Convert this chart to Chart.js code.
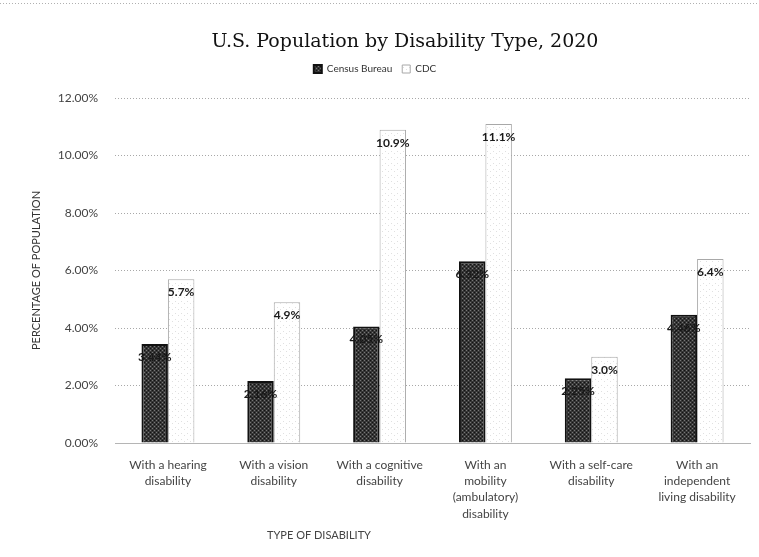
<!DOCTYPE html>
<html>
<head>
<meta charset="utf-8">
<script src="https://cdn.jsdelivr.net/npm/chart.js@4.4.1/dist/chart.umd.min.js"></script>
<style>
  html, body { margin: 0; padding: 0; background: #ffffff; }
  #wrap { width: 759px; height: 557px; position: relative; }
</style>
</head>
<body>
<div id="wrap"><canvas id="chart" width="759" height="557"></canvas></div>
<script>
// Disability types (x-axis categories, multi-line)
const categories = [
  ["With a hearing", "disability"],
  ["With a vision", "disability"],
  ["With a cognitive", "disability"],
  ["With an", "mobility", "(ambulatory)", "disability"],
  ["With a self-care", "disability"],
  ["With an", "independent", "living disability"]
];

// Percent of population, 2020
const censusBureau = [3.44, 2.16, 4.05, 6.32, 2.25, 4.46];
const cdc = [5.7, 4.9, 10.9, 11.1, 3.0, 6.4];

const yTicks = [0, 2, 4, 6, 8, 10, 12];

const chartTitle = "U.S. Population by Disability Type, 2020";
const xAxisTitle = "TYPE OF DISABILITY";
const yAxisTitle = "PERCENTAGE OF POPULATION";

const uiFont = "Lato, 'Open Sans', sans-serif";

// Textured fills for the two series
function makePattern(draw, size) {
  const c = document.createElement("canvas");
  c.width = size; c.height = size;
  const g = c.getContext("2d");
  draw(g);
  return g.createPattern(c, "repeat");
}
const darkFill = makePattern(g => {
  g.fillStyle = "#363636"; g.fillRect(0, 0, 4, 4);
  g.fillStyle = "#777777";
  g.fillRect(0, 0, 1, 1); g.fillRect(2, 2, 1, 1);
  g.fillStyle = "#121212";
  g.fillRect(2, 0, 1, 1); g.fillRect(0, 2, 1, 1);
}, 4);
const lightFill = makePattern(g => {
  g.fillStyle = "#ffffff"; g.fillRect(0, 0, 6, 6);
  g.fillStyle = "#e0e0e0";
  g.fillRect(1, 1, 1, 1); g.fillRect(4, 3, 1, 1);
}, 6);

// Extra space below the legend row
const legendGap = {
  id: "legendGap",
  beforeUpdate(chart) {
    const lg = chart.legend;
    if (lg && !lg._gapPatched) {
      const fit = lg.fit;
      lg.fit = function () {
        fit.call(this);
        this.height += 14;
      };
      lg._gapPatched = true;
    }
  }
};

// Title, x-axis title and value labels drawn on the canvas
const annotations = {
  id: "annotations",
  beforeDraw(chart) {
    const ctx = chart.ctx;
    ctx.save();
    ctx.fillStyle = "#ffffff";
    ctx.fillRect(0, 0, chart.width, chart.height);
    ctx.strokeStyle = "#b0b0b0";
    ctx.setLineDash([1, 2]);
    ctx.beginPath();
    ctx.moveTo(0, 3.5); ctx.lineTo(chart.width, 3.5);
    ctx.stroke();
    ctx.restore();
  },
  afterDraw(chart) {
    const ctx = chart.ctx;
    ctx.save();
    ctx.fillStyle = "#111111";
    ctx.font = "19px 'DejaVu Serif', 'Liberation Serif', serif";
    ctx.textAlign = "center";
    ctx.textBaseline = "middle";
    ctx.fillText(chartTitle, 405, 42);

    ctx.fillStyle = "#444444";
    ctx.font = "11px " + uiFont;
    ctx.fillText(xAxisTitle, 319, 535);
    ctx.restore();
  },
  afterDatasetsDraw(chart) {
    const ctx = chart.ctx;
    ctx.save();
    ctx.textAlign = "center";
    ctx.textBaseline = "middle";
    ctx.font = "bold 12px " + uiFont;
    chart.data.datasets.forEach((ds, di) => {
      const meta = chart.getDatasetMeta(di);
      meta.data.forEach((bar, i) => {
        const v = ds.data[i];
        const txt = di === 0 ? v.toFixed(2) + "%" : v.toFixed(1) + "%";
        ctx.fillStyle = "#1a1a1a";
        ctx.fillText(txt, bar.x, bar.y + 13);
      });
    });
    ctx.restore();
  }
};

new Chart(document.getElementById("chart"), {
  type: "bar",
  data: {
    labels: categories,
    datasets: [
      {
        label: "Census Bureau",
        data: censusBureau,
        backgroundColor: darkFill,
        borderColor: "#111111",
        borderWidth: 2,
        categoryPercentage: 0.5,
        barPercentage: 1.0
      },
      {
        label: "CDC",
        data: cdc,
        backgroundColor: lightFill,
        borderColor: "#a8a8a8",
        borderWidth: 1,
        categoryPercentage: 0.5,
        barPercentage: 1.0
      }
    ]
  },
  options: {
    responsive: false,
    animation: false,
    layout: { padding: { top: 54, right: 9, bottom: 0, left: 0 } },
    plugins: {
      title: { display: false },
      tooltip: { enabled: false },
      legend: {
        position: "top",
        labels: {
          boxWidth: 8,
          boxHeight: 8,
          padding: 10,
          color: "#333333",
          font: { family: uiFont, size: 10 }
        }
      }
    },
    scales: {
      x: {
        grid: { display: false },
        border: { display: true, color: "#b5b5b5", dash: [1, 2] },
        ticks: {
          color: "#444444",
          font: { family: uiFont, size: 12, lineHeight: 1.35 },
          maxRotation: 0,
          autoSkip: false,
          padding: 6
        },
        afterFit(scale) { scale.height = 114; }
      },
      y: {
        min: 0,
        max: 12,
        afterBuildTicks(scale) { scale.ticks = yTicks.map(v => ({ value: v })); },
        grid: { color: "#a8a8a8", drawTicks: false },
        border: { display: false, dash: [1, 2] },
        ticks: {
          color: "#444444",
          font: { family: uiFont, size: 12 },
          padding: 17,
          callback: v => v.toFixed(2) + "%"
        },
        title: {
          display: true,
          text: yAxisTitle,
          color: "#333333",
          font: { family: uiFont, size: 11 },
          padding: { top: 30, bottom: 0 }
        },
        afterFit(scale) { scale.width = 115; }
      }
    }
  },
  plugins: [legendGap, annotations]
});
</script>
</body>
</html>
